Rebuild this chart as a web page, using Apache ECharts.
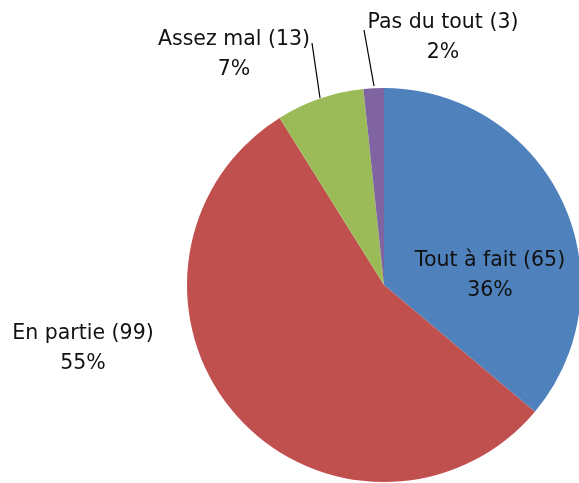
<!DOCTYPE html>
<html><head><meta charset="utf-8">
<script src="https://cdn.jsdelivr.net/npm/echarts@6/dist/echarts.min.js"></script>
<style>html,body{margin:0;padding:0;background:#fff}#c{width:579px;height:483px}</style>
</head><body><div id="c"></div>
<script>
const categories = ['Tout à fait', 'En partie', 'Assez mal', 'Pas du tout'];
const counts = [65, 99, 13, 3];
const colors = ['#4F81BD', '#C0504D', '#9BBB59', '#8064A2'];

// label placement (pixels) and leader lines
const labelPos = [[490, 276], [83, 349], [234, 55], [443, 38]];
const leaders = [null, null, [[312, 43], [320, 98]], [[364, 30], [374, 86]]];

const chart = echarts.init(document.getElementById('c'), null, {renderer: 'canvas'});
chart.setOption({
  animation: false,
  series: [{
    type: 'pie',
    center: [384, 285],
    radius: 197,
    startAngle: 90,
    clockwise: true,
    percentPrecision: 0,
    avoidLabelOverlap: false,
    itemStyle: {borderWidth: 0},
    emphasis: {disabled: true},
    label: {
      show: true,
      formatter: '{b} ({c})\n{d}%',
      fontFamily: 'DejaVu Sans',
      fontSize: 20.5,
      lineHeight: 30,
      color: '#111'
    },
    labelLine: {show: true, lineStyle: {color: '#000', width: 1.2}},
    labelLayout: function (p) {
      const i = p.dataIndex;
      const o = {x: labelPos[i][0], y: labelPos[i][1], align: 'center', verticalAlign: 'middle'};
      if (leaders[i]) o.labelLinePoints = [leaders[i][0], leaders[i][1], leaders[i][1]];
      return o;
    },
    data: categories.map((c, i) => ({
      name: c, value: counts[i],
      itemStyle: {color: colors[i]},
      labelLine: {show: !!leaders[i]}
    }))
  }]
});
</script></body></html>
